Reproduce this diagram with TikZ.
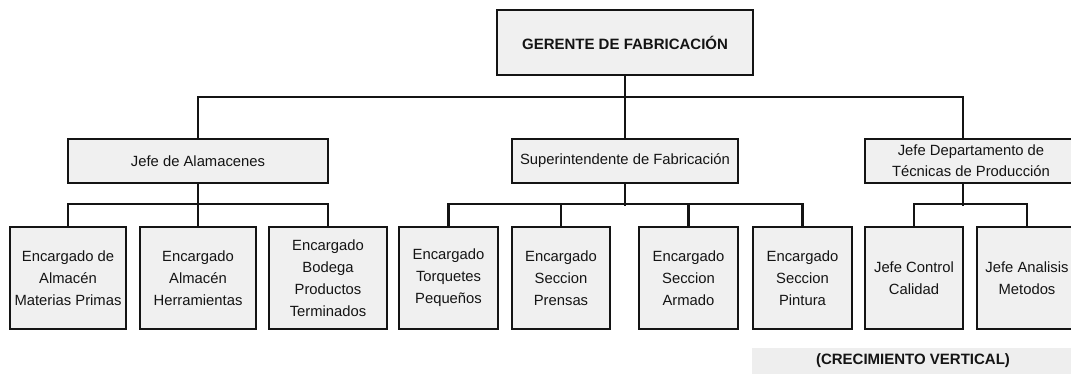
\documentclass[tikz,border=0pt]{standalone}
\usepackage{fontspec}
\setmainfont{Liberation Sans}
\definecolor{boxfill}{RGB}{240,240,240}
\definecolor{bandfill}{RGB}{238,238,238}
\definecolor{ink}{RGB}{20,20,20}
\begin{document}
\begin{tikzpicture}[x=1pt,y=-1pt,
  box/.style={draw=ink,fill=boxfill,line width=2.6pt,rectangle,inner sep=0pt,
    align=center,text=ink,font=\fontsize{14.8}{22}\selectfont},
  kid/.style={box,minimum height=102pt},
  lvl/.style={box,minimum height=44pt},
  conn/.style={draw=ink,line width=2.2pt}]
\useasboundingbox (0,0) rectangle (1071,374);
% top
\node[box,minimum width=256pt,minimum height=65pt,font=\bfseries\fontsize{15}{18}\selectfont] (top) at (625,42.5) {GERENTE DE FABRICACIÓN};
% level 1
\node[lvl,minimum width=260pt] (jA) at (198,161) {Jefe de Alamacenes};
\node[lvl,minimum width=226pt] (sup) at (625,161) {Superintendente de Fabricación};
\node[lvl,minimum width=212pt,font=\fontsize{14.8}{21}\selectfont] (jd) at (971,161) {Jefe Departamento de\\Técnicas de Producción};
% level 2
\node[kid,minimum width=116pt] (c1) at (68,278) {Encargado de\\Almacén\\Materias Primas};
\node[kid,minimum width=116pt] (c2) at (198,278) {Encargado\\Almacén\\Herramientas};
\node[kid,minimum width=118pt] (c3) at (328,278) {Encargado\\Bodega\\Productos\\Terminados};
\node[kid,minimum width=99pt] (c4) at (448.5,278) {Encargado\\Torquetes\\Pequeños};
\node[kid,minimum width=98pt] (c5) at (561,278) {Encargado\\Seccion\\Prensas};
\node[kid,minimum width=99pt] (c6) at (688.5,278) {Encargado\\Seccion\\Armado};
\node[kid,minimum width=99pt] (c7) at (802.5,278) {Encargado\\Seccion\\Pintura};
\node[kid,minimum width=98pt] (c8) at (914,278) {Jefe Control\\Calidad};
\node[kid,minimum width=100pt] (c9) at (1027,278) {Jefe Analisis\\Metodos};
% band
\fill[bandfill] (752,348) rectangle (1071,374);
\node[font=\bfseries\fontsize{15}{18}\selectfont,text=ink,inner sep=0pt] (lab) at (913,361) {(CRECIMIENTO VERTICAL)};
% connectors level 0-1
\coordinate (bus0) at (625,97);
\draw[conn] (top.south) -- (bus0);
\draw[conn] (jA.north) |- (bus0) -| ([xshift=-8pt]jd.north);
\draw[conn] (sup.north) -- (sup.north |- bus0);
% connectors level 1-2
\draw[conn] (c1.north) -- ++(0,-22) -| (c3.north);
\draw[conn] (jA.south) -- (c2.north);
\draw[conn] (c4.north) -- ++(0,-22) -| (c7.north);
\draw[conn] (sup.south) -- ++(0,22);
\draw[conn] (c5.north) -- ++(0,-22);
\draw[conn] (c6.north) -- ++(0,-22);
\draw[conn] (c8.north) -- ++(0,-22) -| (c9.north);
\draw[conn] ([xshift=-8pt]jd.south) -- ++(0,22);
\end{tikzpicture}
\end{document}
